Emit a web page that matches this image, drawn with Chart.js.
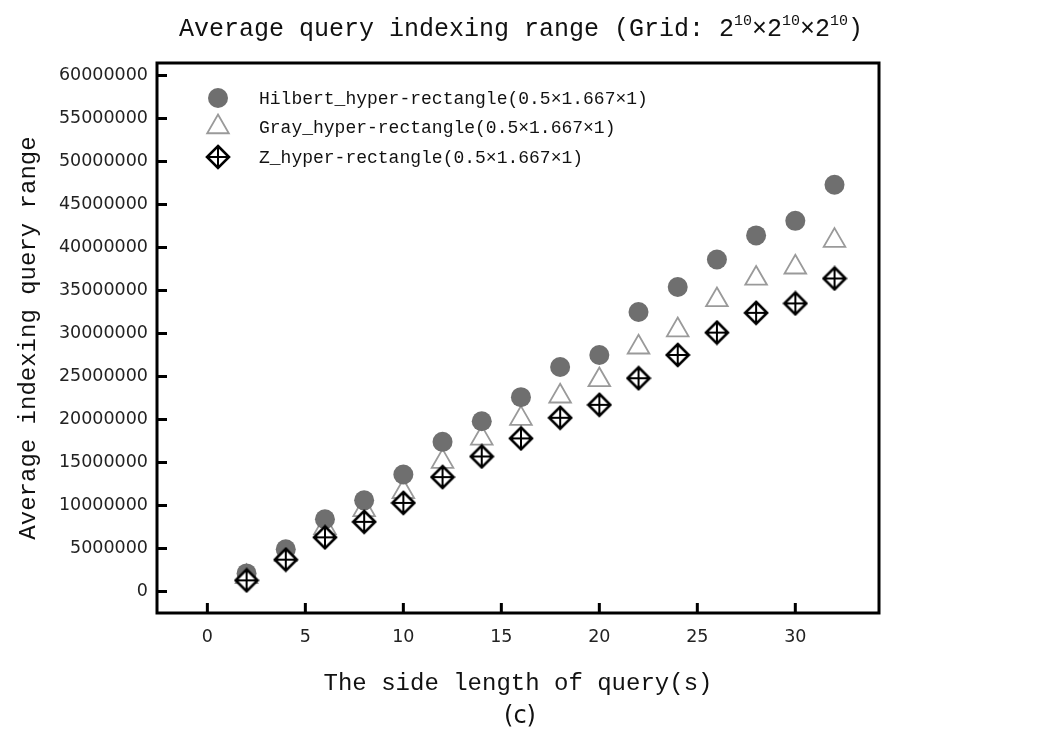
<!DOCTYPE html>
<html>
<head>
<meta charset="utf-8">
<script src="https://cdn.jsdelivr.net/npm/chart.js@4.4.1/dist/chart.umd.min.js"></script>
<style>
body { margin: 0; background: #fff; }
</style>
</head>
<body>
<canvas id="chart" width="1062" height="740"></canvas>
<script>
// side length of query (s)
var sideLength = [2, 4, 6, 8, 10, 12, 14, 16, 18, 20, 22, 24, 26, 28, 30, 32];
// average indexing query range
var hilbertRange = [2100000, 4900000, 8400000, 10600000, 13600000, 17400000, 19800000, 22600000,
                    26100000, 27500000, 32500000, 35400000, 38600000, 41400000, 43100000, 47300000];
var grayRange = [1700000, 4300000, 7400000, 9500000, 11600000, 15100000, 17800000, 20100000,
                 22700000, 24600000, 28400000, 30400000, 33900000, 36400000, 37700000, 40800000];
var zRange = [1300000, 3700000, 6300000, 8100000, 10300000, 13300000, 15700000, 17800000,
              20200000, 21700000, 24800000, 27500000, 30100000, 32400000, 33500000, 36400000];
var seriesNames = ["Hilbert_hyper-rectangle(0.5\u00d71.667\u00d71)",
                   "Gray_hyper-rectangle(0.5\u00d71.667\u00d71)",
                   "Z_hyper-rectangle(0.5\u00d71.667\u00d71)"];
var xTicks = [0, 5, 10, 15, 20, 25, 30];
var yTicks = [0, 5000000, 10000000, 15000000, 20000000, 25000000, 30000000,
              35000000, 40000000, 45000000, 50000000, 55000000, 60000000];

var MONO = "'Liberation Mono', 'Courier New', monospace";
var SANS = "'DejaVu Sans', Verdana, sans-serif";

function diamondMarker() {
  var c = document.createElement('canvas');
  c.width = 26; c.height = 26;
  var g = c.getContext('2d');
  g.fillStyle = '#fff';
  g.strokeStyle = '#000';
  g.lineWidth = 2.6;
  g.beginPath();
  g.moveTo(13, 2); g.lineTo(24, 13); g.lineTo(13, 24); g.lineTo(2, 13);
  g.closePath();
  g.fill(); g.stroke();
  g.lineWidth = 2;
  g.beginPath();
  g.moveTo(13, 3); g.lineTo(13, 23);
  g.moveTo(3, 13); g.lineTo(23, 13);
  g.stroke();
  return c;
}
var zMarker = diamondMarker();

function pts(ys) {
  return sideLength.map(function (x, i) { return {x: x, y: ys[i]}; });
}

var circleColor = '#6f6f6f';
var triColor = '#9a9a9a';

var decor = {
  id: 'decor',
  afterDraw: function (chart) {
    var ctx = chart.ctx, a = chart.chartArea;
    var xs = chart.scales.x, ys = chart.scales.y;
    ctx.save();
    // frame
    ctx.strokeStyle = '#000';
    ctx.lineWidth = 3;
    ctx.strokeRect(a.left, a.top, a.right - a.left, a.bottom - a.top);
    // inward ticks
    ctx.beginPath();
    ys.ticks.forEach(function (t) {
      var py = ys.getPixelForValue(t.value);
      ctx.moveTo(a.left, py); ctx.lineTo(a.left + 10, py);
    });
    xs.ticks.forEach(function (t) {
      var px = xs.getPixelForValue(t.value);
      ctx.moveTo(px, a.bottom); ctx.lineTo(px, a.bottom - 10);
    });
    ctx.stroke();

    // title with superscripts
    ctx.fillStyle = '#111';
    ctx.textBaseline = 'alphabetic';
    ctx.textAlign = 'left';
    var big = '25px ' + MONO, small = '15px ' + MONO;
    var parts = [
      ['Average query indexing range (Grid: 2', big, 0],
      ['10', small, -11], ['\u00d72', big, 0],
      ['10', small, -11], ['\u00d72', big, 0],
      ['10', small, -11], [')', big, 0]
    ];
    var total = 0;
    parts.forEach(function (p) { ctx.font = p[1]; total += ctx.measureText(p[0]).width; });
    var cx = 521 - total / 2;
    parts.forEach(function (p) {
      ctx.font = p[1];
      ctx.fillText(p[0], cx, 36 + p[2]);
      cx += ctx.measureText(p[0]).width;
    });

    // caption
    ctx.font = '24px ' + SANS;
    ctx.textAlign = 'center';
    ctx.textBaseline = 'middle';
    ctx.fillText('(c)', 520, 717);

    // legend
    var lx = 218, ly = [98, 127, 157];
    ctx.fillStyle = circleColor;
    ctx.beginPath(); ctx.arc(lx, ly[0], 10, 0, Math.PI * 2); ctx.fill();
    ctx.strokeStyle = triColor; ctx.lineWidth = 1.8;
    var r = 12.5;
    ctx.beginPath();
    ctx.moveTo(lx, ly[1] - r);
    ctx.lineTo(lx + r * Math.sin(Math.PI * 2 / 3), ly[1] + r / 2);
    ctx.lineTo(lx - r * Math.sin(Math.PI * 2 / 3), ly[1] + r / 2);
    ctx.closePath(); ctx.stroke();
    ctx.drawImage(zMarker, lx - 13, ly[2] - 13);
    ctx.fillStyle = '#111';
    ctx.font = '18px ' + MONO;
    ctx.textAlign = 'left';
    ctx.textBaseline = 'middle';
    seriesNames.forEach(function (n, i) { ctx.fillText(n, 259, ly[i] + 1); });
    ctx.restore();
  }
};

function fixedTicks(list) {
  return function (s) { s.ticks = list.map(function (v) { return {value: v}; }); };
}

var ctx = document.getElementById('chart').getContext('2d');
var chart = new Chart(ctx, {
  type: 'scatter',
  data: {
    datasets: [{
      label: seriesNames[0],
      data: pts(hilbertRange),
      pointStyle: 'circle',
      pointRadius: 10,
      backgroundColor: circleColor,
      borderColor: circleColor,
      borderWidth: 0,
      order: 2
    }, {
      label: seriesNames[1],
      data: pts(grayRange),
      pointStyle: 'triangle',
      pointRadius: 12.5,
      backgroundColor: 'rgba(0,0,0,0)',
      borderColor: triColor,
      borderWidth: 1.8,
      order: 3
    }, {
      label: seriesNames[2],
      data: pts(zRange),
      pointStyle: zMarker,
      pointRadius: 12,
      order: 1
    }]
  },
  options: {
    responsive: false,
    animation: false,
    events: [],
    layout: { padding: { left: 0, top: 63, right: 183, bottom: 0 } },
    plugins: {
      legend: { display: false },
      tooltip: { enabled: false }
    },
    scales: {
      x: {
        type: 'linear',
        min: -2.57,
        max: 34.27,
        grid: { display: false, drawTicks: false },
        border: { display: false },
        afterBuildTicks: fixedTicks(xTicks),
        ticks: {
          color: '#222',
          font: { family: SANS, size: 17.5 },
          padding: 14,
          autoSkip: false,
          maxRotation: 0
        },
        title: {
          display: true,
          text: 'The side length of query(s)',
          color: '#111',
          font: { family: MONO, size: 24 },
          padding: { top: 0, bottom: 42 }
        },
        afterFit: function (s) { s.height = 127; }
      },
      y: {
        type: 'linear',
        min: -2500000,
        max: 61450000,
        grid: { display: false, drawTicks: false },
        border: { display: false },
        afterBuildTicks: fixedTicks(yTicks),
        ticks: {
          color: '#222',
          font: { family: SANS, size: 17.5 },
          padding: 9,
          autoSkip: false,
          callback: function (v) { return String(v); }
        },
        title: {
          display: true,
          text: 'Average indexing query range',
          color: '#111',
          font: { family: MONO, size: 24 },
          padding: { top: 14, bottom: 0 }
        },
        afterFit: function (s) { s.width = 157; }
      }
    }
  },
  plugins: [decor]
});
</script>
</body>
</html>
